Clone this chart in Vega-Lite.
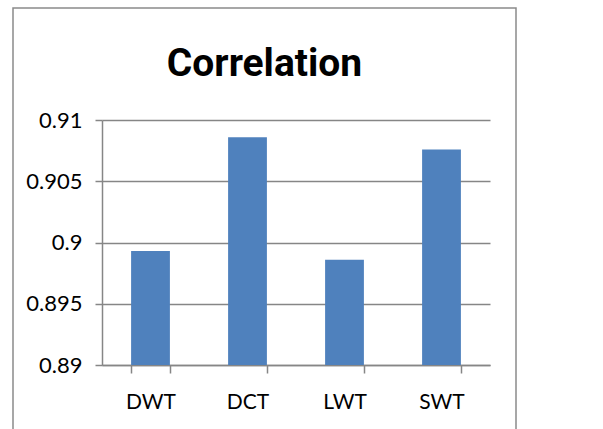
{
  "$schema": "https://vega.github.io/schema/vega-lite/v6.json",
  "width": 503,
  "height": 425,
  "autosize": "none",
  "padding": {"left": 13, "top": 8, "right": 87, "bottom": 0},
  "background": "white",
  "title": {
    "text": "Correlation",
    "font": "Roboto",
    "fontSize": 39,
    "fontWeight": "bold",
    "color": "#000000",
    "anchor": "middle",
    "baseline": "alphabetic",
    "offset": -107
  },
  "data": {
    "values": [
      {"method": "DWT", "correlation": 0.8993},
      {"method": "DCT", "correlation": 0.9086},
      {"method": "LWT", "correlation": 0.8986},
      {"method": "SWT", "correlation": 0.9076}
    ]
  },
  "mark": {"type": "bar", "color": "#4F81BD"},
  "encoding": {
    "x": {
      "field": "method",
      "type": "nominal",
      "sort": ["DWT", "DCT", "LWT", "SWT"],
      "scale": {"range": [89, 477], "paddingInner": 0.6, "paddingOuter": 0.3},
      "axis": {
        "title": null,
        "labelAngle": 0,
        "offset": -68,
        "tickBand": "extent",
        "tickSize": 8,
        "labelPadding": 18,
        "labelFont": "Lato",
        "labelFontSize": 21,
        "labelColor": "#000000"
      }
    },
    "y": {
      "field": "correlation",
      "type": "quantitative",
      "scale": {"domain": [0.89, 0.91], "zero": false, "nice": false, "range": [357, 112]},
      "axis": {
        "title": null,
        "values": [0.89, 0.895, 0.9, 0.905, 0.91],
        "format": ".3~f",
        "offset": -89,
        "tickSize": 7,
        "labelPadding": 13,
        "labelFont": "Lato",
        "labelFontSize": 22,
        "labelColor": "#000000",
        "grid": true
      }
    },
    "y2": {"datum": 0.89}
  },
  "config": {
    "view": {"stroke": "#8a8a8a", "strokeWidth": 1.5},
    "axis": {
      "domainColor": "#868686",
      "domainWidth": 1.5,
      "tickColor": "#868686",
      "tickWidth": 1.5,
      "gridColor": "#868686",
      "gridWidth": 1.5,
      "gridOpacity": 1
    }
  }
}
